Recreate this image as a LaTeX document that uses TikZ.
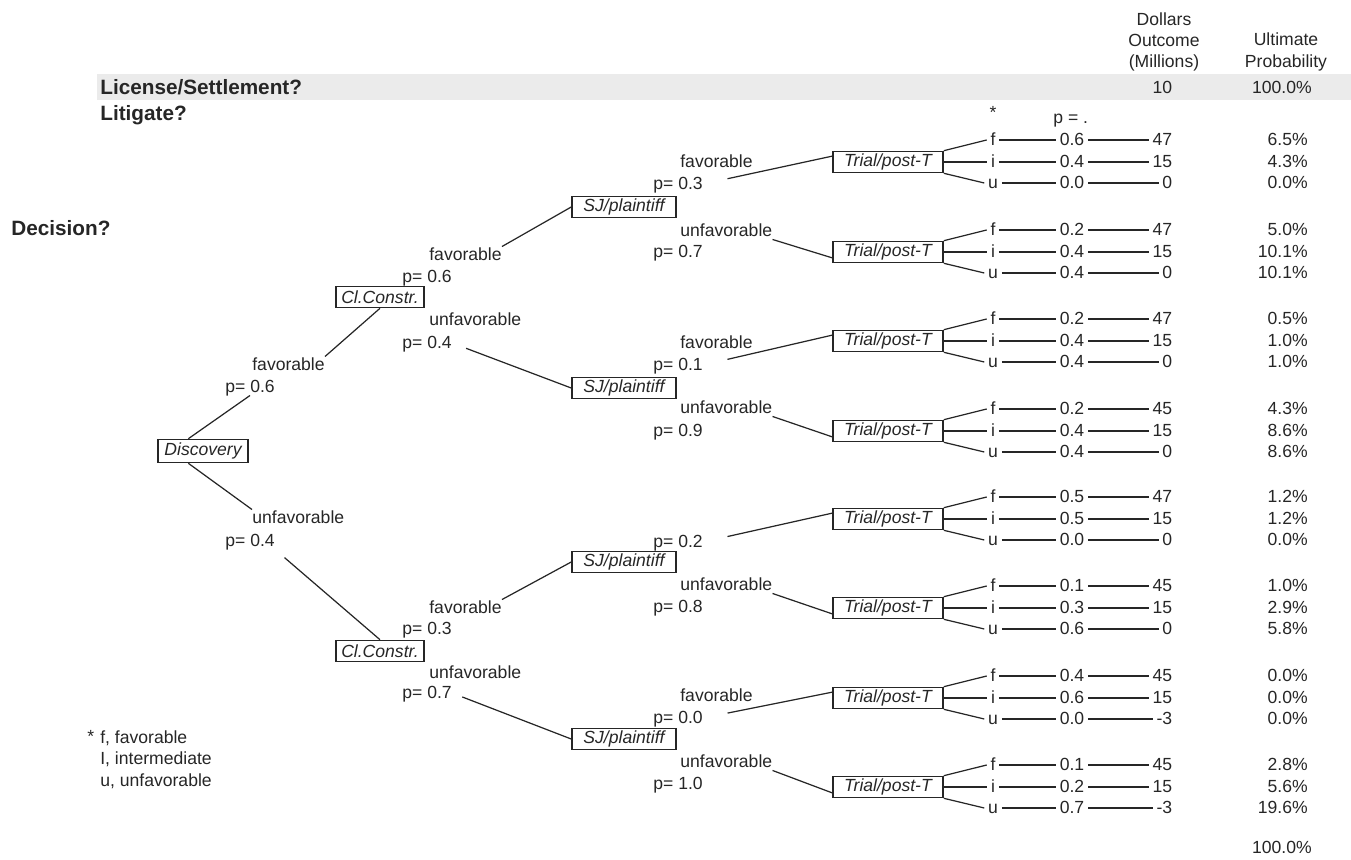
\documentclass[tikz,border=0pt]{standalone}
\usepackage{fontspec}
\setmainfont{Liberation Sans}

\tikzset{
  box/.style={draw, line width=0.9pt, font=\fontsize{10}{12}\selectfont\itshape,
              inner sep=1pt, minimum height=0.42cm},
  trialbox/.style={box, minimum width=2.2cm},
  sjbox/.style={box, minimum width=2.08cm},
  cibox/.style={box, minimum width=1.76cm},
  discbox/.style={box, minimum width=1.8cm, minimum height=0.46cm},
  lbl/.style={anchor=west, inner sep=0pt, text height=1.5ex, text depth=0.25ex},
  leaf/.style={inner sep=2pt, text height=1.5ex, text depth=0.25ex},
  head/.style={anchor=west, inner sep=0pt, font=\fontsize{11.8}{14}\selectfont\bfseries},
  branch/.style={line width=0.7pt},
}

\begin{document}
\begin{tikzpicture}[x=0.2mm, y=-0.2mm, color=black!85,
                    font=\fontsize{10}{12.2}\selectfont]

\useasboundingbox (0,0) rectangle (1351,860);

% header
\fill[black!8] (97,74) rectangle (1351,100);
\node[head] (settle) at (100,87) {License/Settlement?};
\node[head] (litig) at (100,115) {Litigate?};
\node[head] (decis) at (11,228) {Decision?};
\node[align=center] (dollars) at (1164,42) {Dollars\\Outcome\\(Millions)};
\node[align=center] (ultim) at (1286,52) {Ultimate\\Probability};
\node[leaf, anchor=east] (settleval) at (1176,88) {10};
\node[leaf, anchor=east, inner sep=0pt] (settlepct) at (1312,88) {100.0\%};
\node[leaf] (star) at (993,113) {*};
\node[lbl] (peq) at (1053,118) {p = .};

% boxes
\node[discbox] (disc) at (203,451) {Discovery};
\node[cibox] (ci1) at (380,297) {Cl.Constr.};
\node[cibox] (ci2) at (380,651) {Cl.Constr.};
\foreach \n/\y in {1/207, 2/388, 3/562, 4/739}
  \node[sjbox] (sj\n) at (624,\y) {SJ/plaintiff};

% branch labels
\node[lbl] (dfw) at (252,365) {favorable};
\node[lbl] (dfp) at (225,387) {p= 0.6};
\node[lbl] (duw) at (252,518) {unfavorable};
\node[lbl] (dup) at (225,541) {p= 0.4};

\node[lbl] (cfw1) at (429,255) {favorable};
\node[lbl] (cfp1) at (402,277) {p= 0.6};
\node[lbl] (cuw1) at (429,320) {unfavorable};
\node[lbl] (cup1) at (402,343) {p= 0.4};
\node[lbl] (cfw2) at (429,608) {favorable};
\node[lbl] (cfp2) at (402,629) {p= 0.3};
\node[lbl] (cuw2) at (429,673) {unfavorable};
\node[lbl] (cup2) at (402,693) {p= 0.7};

\node[lbl] (sfw1) at (680,162) {favorable};
\node[lbl] (sfp1) at (653,184) {p= 0.3};
\node[lbl] (suw1) at (680,231) {unfavorable};
\node[lbl] (sup1) at (653,252) {p= 0.7};
\node[lbl] (sfw2) at (680,343) {favorable};
\node[lbl] (sfp2) at (653,365) {p= 0.1};
\node[lbl] (suw2) at (680,408) {unfavorable};
\node[lbl] (sup2) at (653,431) {p= 0.9};
\node[lbl] (sfp3) at (653,542) {p= 0.2};
\node[lbl] (suw3) at (680,585) {unfavorable};
\node[lbl] (sup3) at (653,607) {p= 0.8};
\node[lbl] (sfw4) at (680,696) {favorable};
\node[lbl] (sfp4) at (653,718) {p= 0.0};
\node[lbl] (suw4) at (680,762) {unfavorable};
\node[lbl] (sup4) at (653,784) {p= 1.0};

% first levels
\draw[branch] (disc.140) -- (dfp.south);
\draw[branch] (dfw.north east) -- (ci1.south);
\draw[branch] (disc.220) -- (duw.north west);
\draw[branch, shorten <=2.5mm] (dup.south east) -- (ci2.north);
\draw[branch] (cfw1.north east) -- (sj1.west);
\draw[branch, shorten <=3mm] (cup1.east) -- (sj2.west);
\draw[branch] (cfw2.north east) -- (sj3.west);
\draw[branch, shorten <=2.2mm] (cup2.east) -- (sj4.west);

% trials and outcomes
\foreach \n/\y/\pa/\oa/\ua/\pb/\ob/\ub/\pc/\oc/\uc in {
    1/162/0.6/47/6.5/0.4/15/4.3/0.0/0/0.0,
    2/252/0.2/47/5.0/0.4/15/10.1/0.4/0/10.1,
    3/341/0.2/47/0.5/0.4/15/1.0/0.4/0/1.0,
    4/431/0.2/45/4.3/0.4/15/8.6/0.4/0/8.6,
    5/519/0.5/47/1.2/0.5/15/1.2/0.0/0/0.0,
    6/608/0.1/45/1.0/0.3/15/2.9/0.6/0/5.8,
    7/698/0.4/45/0.0/0.6/15/0.0/0.0/-3/0.0,
    8/787/0.1/45/2.8/0.2/15/5.6/0.7/-3/19.6} {
  \node[trialbox] (t\n) at (888,\y) {Trial/post-T};
  \node[leaf] (f\n) at (993,\y-22) {f};
  \node[leaf] (i\n) at (993,\y) {i};
  \node[leaf] (u\n) at (993,\y+21) {u};
  \node[leaf] (pf\n) at (1072,\y-22) {\pa};
  \node[leaf] (pi\n) at (1072,\y) {\pb};
  \node[leaf] (pu\n) at (1072,\y+21) {\pc};
  \node[leaf, anchor=east] (of\n) at (1176,\y-22) {\oa};
  \node[leaf, anchor=east] (oi\n) at (1176,\y) {\ob};
  \node[leaf, anchor=east] (ou\n) at (1176,\y+21) {\oc};
  \node[leaf, anchor=east, inner sep=0pt] (uf\n) at (1308,\y-22) {\ua\%};
  \node[leaf, anchor=east, inner sep=0pt] (ui\n) at (1308,\y) {\ub\%};
  \node[leaf, anchor=east, inner sep=0pt] (uu\n) at (1308,\y+21) {\uc\%};
  \draw[branch] (t\n.north east) -- (f\n.west);
  \draw[branch] (t\n.east) -- (i\n.west);
  \draw[branch] (t\n.south east) -- (u\n.west);
  \draw[branch] (f\n.east) -- (pf\n.west);
  \draw[branch] (i\n.east) -- (pi\n.west);
  \draw[branch] (u\n.east) -- (pu\n.west);
  \draw[branch] (pf\n.east) -- (of\n.west);
  \draw[branch] (pi\n.east) -- (oi\n.west);
  \draw[branch] (pu\n.east) -- (ou\n.west);
}

% SJ to trial
\foreach \n/\ta/\tb in {1/1/2, 2/3/4, 3/5/6, 4/7/8} {
  \draw[branch, shorten <=5mm] (sfp\n.east) -- (t\ta.174);
  \draw[branch] (suw\n.south east) -- (t\tb.186);
}

\node[leaf, anchor=east, inner sep=0pt] (grand) at (1312,848) {100.0\%};

% legend
\node[lbl] (legstar) at (87,737) {*};
\node[lbl] (legf) at (100,738) {f, favorable};
\node[lbl] (legi) at (100,759) {I, intermediate};
\node[lbl] (legu) at (100,781) {u, unfavorable};

\end{tikzpicture}
\end{document}
